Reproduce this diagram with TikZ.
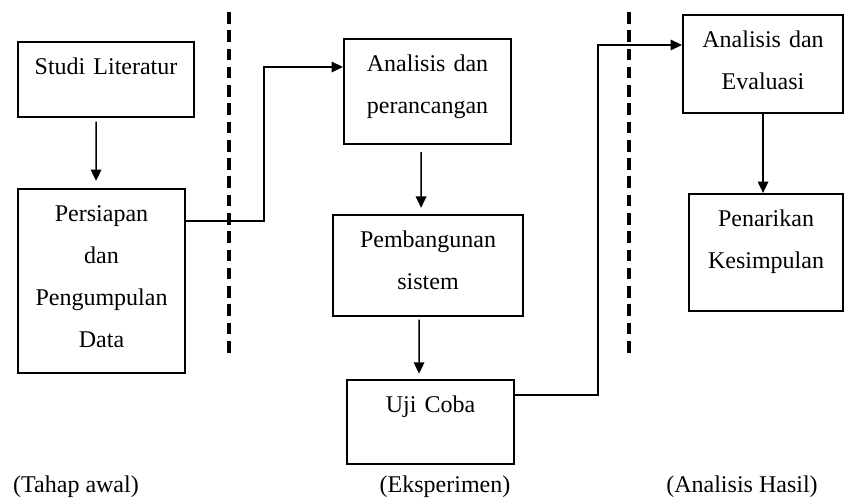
\documentclass[tikz,border=0pt]{standalone}
\usepackage{fontspec}
\setmainfont{Liberation Serif}
\usepackage{tikz}
\usetikzlibrary{arrows.meta}
\newcommand{\stagefont}{\fontsize{13.66pt}{23.9pt}\selectfont}
\tikzset{
  stage/.style={draw, line width=1.2pt, align=center, inner sep=0pt,
    anchor=north west, text height=0.64cm, font=\stagefont},
  link/.style={line width=0.9pt, -{Triangle[length=6.5pt,width=6pt]}},
  phase/.style={font=\stagefont},
  divider/.style={line width=2pt, dash pattern=on 6.6pt off 3.8pt}
}

\begin{document}
\begin{tikzpicture}

      \useasboundingbox (0,0) rectangle (16.88,-10);

      % tahap awal
      \node [stage, text width=3.52cm, text depth=0.86cm] (studi) at (0.34,-0.82) {Studi Literatur};
      \node [stage, text width=3.34cm, text depth=3.04cm] (persiapan) at (0.34,-3.76) {Persiapan\\dan\\Pengumpulan\\Data};

      % eksperimen
      \node [stage, text width=3.34cm, text depth=1.46cm] (analisis) at (6.86,-0.76) {Analisis dan\\perancangan};
      \node [stage, text width=3.8cm, text depth=1.38cm] (pembangunan) at (6.64,-4.28) {Pembangunan\\sistem};
      \node [stage, text width=3.34cm, text depth=1.04cm] (ujicoba) at (6.92,-7.58) {Uji Coba};

      % analisis hasil
      \node [stage, text width=3.2cm, text depth=1.32cm] (evaluasi) at (13.64,-0.28) {Analisis dan\\Evaluasi};
      \node [stage, text width=3.08cm, text depth=1.70cm] (penarikan) at (13.76,-3.86) {Penarikan\\Kesimpulan};

      \draw [divider] (4.58,-0.24) -- (4.58,-7.06);
      \draw [divider] (12.58,-0.24) -- (12.58,-7.06);

      \coordinate (bendA) at (5.28,-1.34);
      \coordinate (bendB) at (11.96,-0.9);

      \draw [link, shorten <=2pt, shorten >=4pt] ([xshift=-0.2cm]studi.south) -- ([xshift=-0.11cm]persiapan.north);
      \draw [link, shorten <=4pt, shorten >=3.5pt] ([xshift=-0.13cm]analisis.south) -- ([xshift=-0.14cm]pembangunan.north);
      \draw [link, shorten <=1.5pt, shorten >=3pt] ([xshift=-0.18cm]pembangunan.south) -- ([xshift=-0.23cm]ujicoba.north);
      \draw [link] (evaluasi.south) -- (evaluasi.south |- penarikan.north);

      \draw [link] ([yshift=-0.66cm]persiapan.north east) -| (bendA) -- (bendA -| analisis.west);
      \draw [link] ([yshift=-0.32cm]ujicoba.north east) -| (bendB) -- (bendB -| evaluasi.west);

      \node [phase] (awal) at (1.52,-9.74) {(Tahap awal)};
      \node [phase] (eksperimen) at (8.9,-9.74) {(Eksperimen)};
      \node [phase] (hasil) at (14.84,-9.74) {(Analisis Hasil)};

\end{tikzpicture}
\end{document}
